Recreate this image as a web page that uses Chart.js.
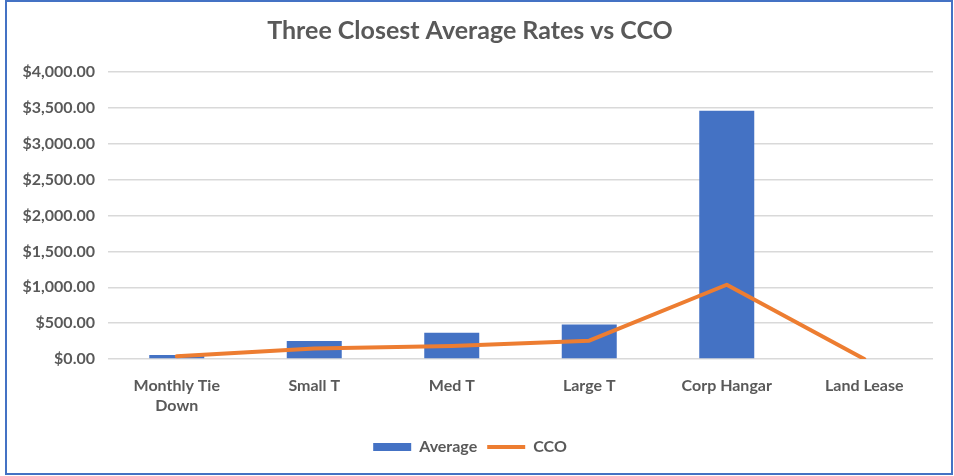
<!DOCTYPE html>
<html>
<head>
<meta charset="utf-8">
<script src="https://cdn.jsdelivr.net/npm/chart.js@4.4.1/dist/chart.umd.min.js"></script>
<style>
  html, body { margin:0; padding:0; background:#fff; }
  #frame { position:absolute; left:5px; top:0; width:948px; height:475px; box-sizing:border-box; border:2px solid #4472c4; background:#fff; }
  #chart { display:block; }
</style>
</head>
<body>
<div id="frame"><canvas id="chart" width="944" height="471"></canvas></div>
<script>
// données
const categories = [['Monthly Tie', 'Down'], 'Small T', 'Med T', 'Large T', 'Corp Hangar', 'Land Lease'];
const averageRates = [55, 250, 365, 480, 3460, 0];
const ccoRates = [40, 145, 180, 255, 1035, 0];
const yTicks = [0, 500, 1000, 1500, 2000, 2500, 3000, 3500, 4000];

const grey = '#595959';
const font = { family: 'Lato, "Open Sans", sans-serif', weight: 'bold', size: 16 };

new Chart(document.getElementById('chart'), {
  type: 'bar',
  data: {
    labels: categories,
    datasets: [
      { label: 'Average', data: averageRates, backgroundColor: '#4472c4', order: 2,
        barPercentage: 0.4, categoryPercentage: 1 },
      { label: 'CCO', type: 'line', data: ccoRates, borderColor: '#ed7d31', backgroundColor: '#ed7d31',
        borderWidth: 4, pointRadius: 0, tension: 0, borderCapStyle: 'round', borderJoinStyle: 'round', order: 1 }
    ]
  },
  options: {
    responsive: false,
    animation: false,
    layout: { padding: { left: 0, right: 18, top: 0, bottom: 8 } },
    plugins: {
      title: { display: true, text: 'Three Closest Average Rates vs CCO', color: grey,
        font: { family: font.family, weight: 'bold', size: 25 }, padding: { top: 14, bottom: 26 } },
      legend: {
        position: 'bottom',
        labels: {
          color: grey, font: font, usePointStyle: true, pointStyleWidth: 38, boxHeight: 8, padding: 10,
          generateLabels: chart => Chart.defaults.plugins.legend.labels.generateLabels(chart)
            .sort((a, b) => a.datasetIndex - b.datasetIndex)
            .map(l => ({ ...l, pointStyle: l.datasetIndex === 0 ? 'rect' : 'line', lineWidth: l.datasetIndex === 0 ? 0 : 4 }))
        }
      },
      tooltip: { enabled: false }
    },
    scales: {
      x: {
        grid: { display: false, drawTicks: false },
        border: { display: false },
        ticks: { color: grey, font: { ...font, lineHeight: 1.3 }, padding: 16, maxRotation: 0, autoSkip: false },
        afterFit: s => { s.height = 70; }
      },
      y: {
        min: 0, max: 4000,
        afterBuildTicks: s => { s.ticks = yTicks.map(v => ({ value: v })); },
        grid: { color: '#d9d9d9', lineWidth: 1.5, drawTicks: false },
        border: { display: false },
        ticks: { color: grey, font: font, padding: 13,
          callback: v => '$' + v.toLocaleString('en-US', { minimumFractionDigits: 2, maximumFractionDigits: 2 }) },
        afterFit: s => { s.width = 101; }
      }
    }
  }
});
</script>
</body>
</html>
